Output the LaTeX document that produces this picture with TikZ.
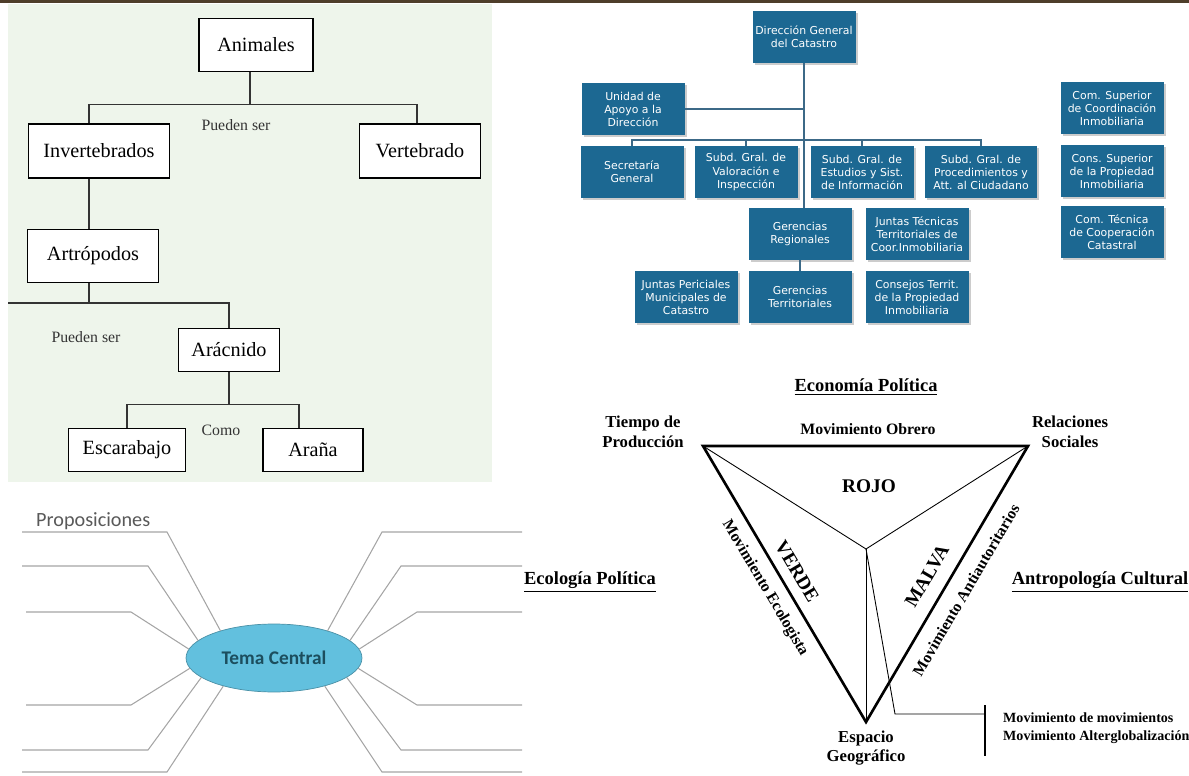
\documentclass[tikz,border=0pt]{standalone}
\usepackage{fontspec}
\setmainfont{Liberation Serif}
\newfontfamily\orgfont{DejaVu Sans}
\newfontfamily\mapfont{Carlito}
\usetikzlibrary{shadows,shapes.geometric}
\definecolor{fondo}{RGB}{238,245,235}
\definecolor{barra}{RGB}{78,62,42}
\definecolor{azulorg}{RGB}{28,104,146}
\definecolor{lineaorg}{RGB}{60,105,135}
\definecolor{celeste}{RGB}{98,192,222}
\definecolor{tematexto}{RGB}{28,78,94}
\definecolor{gris}{RGB}{165,165,165}
\begin{document}
\begin{tikzpicture}[x=0.02cm, y=-0.02cm,
    caja/.style={draw=black, line width=0.8pt, fill=white, inner sep=0pt, minimum height=1.06cm, font=\fontsize{11.5}{13}\selectfont},
    enlace/.style={draw=black!80, line width=0.6pt},
    nota/.style={text=black!80, font=\fontsize{9}{11}\selectfont},
    org/.style={fill=azulorg, text=white, align=center, inner sep=1pt, minimum width=2.06cm, minimum height=1.03cm, font=\orgfont\fontsize{6.2}{7.4}\selectfont, drop shadow={shadow xshift=1.2pt, shadow yshift=-1.2pt, fill=black!40}},
    orglinea/.style={draw=lineaorg, line width=1.1pt},
    rama/.style={draw=gris, line width=0.6pt},
    vertice/.style={align=center, font=\bfseries\fontsize{9.5}{11.3}\selectfont},
    titulo/.style={font=\bfseries\fontsize{10.5}{12}\selectfont},
    lado/.style={font=\bfseries\fontsize{9}{11}\selectfont},
    tono/.style={font=\bfseries\fontsize{11}{13}\selectfont}]
    \useasboundingbox (0,0) rectangle (1189,776);
    \fill[barra] (0,0) rectangle (1189,3.5);
    \fill[fondo] (8,4) rectangle (492,482);

    \node[caja, minimum width=2.28cm] (ani) at (256,45) {Animales};
    \node[caja, minimum width=2.82cm, minimum height=1.08cm] (inv) at (99,151) {Invertebrados};
    \node[caja, minimum width=2.42cm, minimum height=1.08cm] (ver) at (420,151) {Vertebrado};
    \node[caja, minimum width=2.62cm] (art) at (93,256) {Artrópodos};
    \node[caja, minimum width=2.02cm, minimum height=0.86cm] (arc) at (229,350) {Arácnido};
    \node[caja, minimum width=2.34cm, minimum height=0.86cm] (esc) at (127,450) {Escarabajo};
    \node[caja, minimum width=2cm, minimum height=0.86cm] (arn) at (313,450) {Araña};
    \node[nota] (ps1) at (236,125) {Pueden ser};
    \node[nota] (ps2) at (86,337) {Pueden ser};
    \node[nota] (como) at (221,430) {Como};
    \coordinate (borde) at (8,303);
    \draw[enlace] ([xshift=-0.12cm]ani.south) -- ++(0,32) -| ([xshift=-0.2cm]inv.north);
    \draw[enlace] ([xshift=-0.12cm]ani.south) ++(0,32) -| ([xshift=-0.06cm]ver.north);
    \draw[enlace] ([xshift=-0.2cm]inv.south) -- ([xshift=-0.2cm]inv.south |- art.north);
    \draw[enlace] ([xshift=-0.08cm]art.south) -- ++(0,20);
    \draw[enlace] (borde) -| (arc.north);
    \draw[enlace] (arc.south) -- ++(0,32) -| (esc.north);
    \draw[enlace] (arc.south) ++(0,32) -| ([xshift=-0.28cm]arn.north);

    \node[org] (dir) at (804,37) {Dirección General\\del Catastro};
    \node[org] (uad) at (633,109) {Unidad de\\Apoyo a la\\Dirección};
    \node[org] (sec) at (632,172) {Secretaría\\General};
    \node[org] (val) at (746,172) {Subd. Gral. de\\Valoración e\\Inspección};
    \node[org] (est) at (862,172) {Subd. Gral. de\\Estudios y Sist.\\de Información};
    \node[org, minimum width=2.24cm] (pcd) at (981,172) {Subd. Gral. de\\Procedimientos y\\Att. al Ciudadano};
    \node[org] (gre) at (800,234) {Gerencias\\Regionales};
    \node[org] (jtt) at (917,234) {Juntas Técnicas\\Territoriales de\\Coor.Inmobiliaria};
    \node[org] (jpm) at (686,297) {Juntas Periciales\\Municipales de\\Catastro};
    \node[org] (gte) at (800,297) {Gerencias\\Territoriales};
    \node[org] (cti) at (917,297) {Consejos Territ.\\de la Propiedad\\Inmobiliaria};
    \node[org] (csc) at (1112,108) {Com. Superior\\de Coordinación\\Inmobiliaria};
    \node[org] (csp) at (1112,171) {Cons. Superior\\de la Propiedad\\Inmobiliaria};
    \node[org] (ctc) at (1112,232) {Com. Técnica\\de Cooperación\\Catastral};
    \draw[orglinea] (dir.south) -- (dir.south |- gre.north);
    \draw[orglinea] (uad.east) -- (uad.east -| dir.south);
    \draw[orglinea] (sec.north) -- ++(0,-6) -| (pcd.north);
    \draw[orglinea] (val.north) -- ++(0,-6);
    \draw[orglinea] (est.north) -- ++(0,-6);
    \draw[orglinea] (gre.south) -- (gte.north);

    \node[ellipse, draw=celeste!75!black, fill=celeste, minimum width=3.52cm, minimum height=1.36cm, text=tematexto, font=\mapfont\bfseries\fontsize{11}{13}\selectfont] (tc) at (274,658) {Tema Central};
    \node[anchor=west, text=black!65, font=\mapfont\fontsize{11.5}{13}\selectfont] (prop) at (30,521) {Proposiciones};
    \foreach \a/\bx/\by/\ex in {153/167/532/22, 167/148/566/22, 174/131/612/26, 187/131/705/26, 195/148/750/22, 209/167/772/22}{
        \coordinate (codo) at (\bx,\by);
        \coordinate (fin) at (\ex,\by);
        \draw[rama] (tc.\a) -- (codo) -- (fin);
    }
    \foreach \a/\bx/\by in {27/382/532, 13/401/566, 6/417/612, 353/417/705, 345/401/750, 331/382/772}{
        \coordinate (codo) at (\bx,\by);
        \coordinate (fin) at (522,\by);
        \draw[rama] (tc.\a) -- (codo) -- (fin);
    }

    \coordinate (tp) at (703,446);
    \coordinate (rs) at (1028,446);
    \coordinate (eg) at (866,722);
    \coordinate (cen) at (866,549);
    \coordinate (quiebre) at (895,714);
    \coordinate (llave) at (985,714);
    \coordinate (llsup) at (985,705);
    \coordinate (llinf) at (985,756);
    \draw[line width=1.5pt] (tp) -- (rs) -- (eg) -- cycle;
    \draw[line width=0.5pt] (tp) -- (cen) -- (rs);
    \draw[line width=0.5pt] (cen) -- (eg);
    \draw[line width=0.5pt] (cen) -- (quiebre) -- (llave);
    \draw[line width=0.6pt] (llsup) -- (llinf);
    \node[titulo] (ecopol) at (866,387) {\underline{Economía Política}};
    \node[titulo] (ecolog) at (590,582) {\underline{Ecología Política}};
    \node[titulo] (antrop) at (1100,582) {\underline{Antropología Cultural}};
    \node[vertice] (tdp) at (643,432) {Tiempo de\\Producción};
    \node[vertice] (rsl) at (1070,432) {Relaciones\\Sociales};
    \node[vertice] (esg) at (866,748) {Espacio\\Geográfico};
    \node[lado] (mobr) at (868,429) {Movimiento Obrero};
    \node[lado, rotate=-59.4] (meco) at (765,588) {Movimiento Ecologista};
    \node[lado, rotate=59.6] (mant) at (966,590) {Movimiento Antiautoritarios};
    \node[tono] (rojo) at (869,486) {ROJO};
    \node[tono, rotate=-59.4] (verde) at (797,571) {VERDE};
    \node[tono, rotate=59.6] (malva) at (927,576) {MALVA};
    \node[anchor=west, align=left, font=\bfseries\fontsize{8}{10}\selectfont] (mdm) at (997,728) {Movimiento de movimientos\\Movimiento Alterglobalización};
\end{tikzpicture}
\end{document}
